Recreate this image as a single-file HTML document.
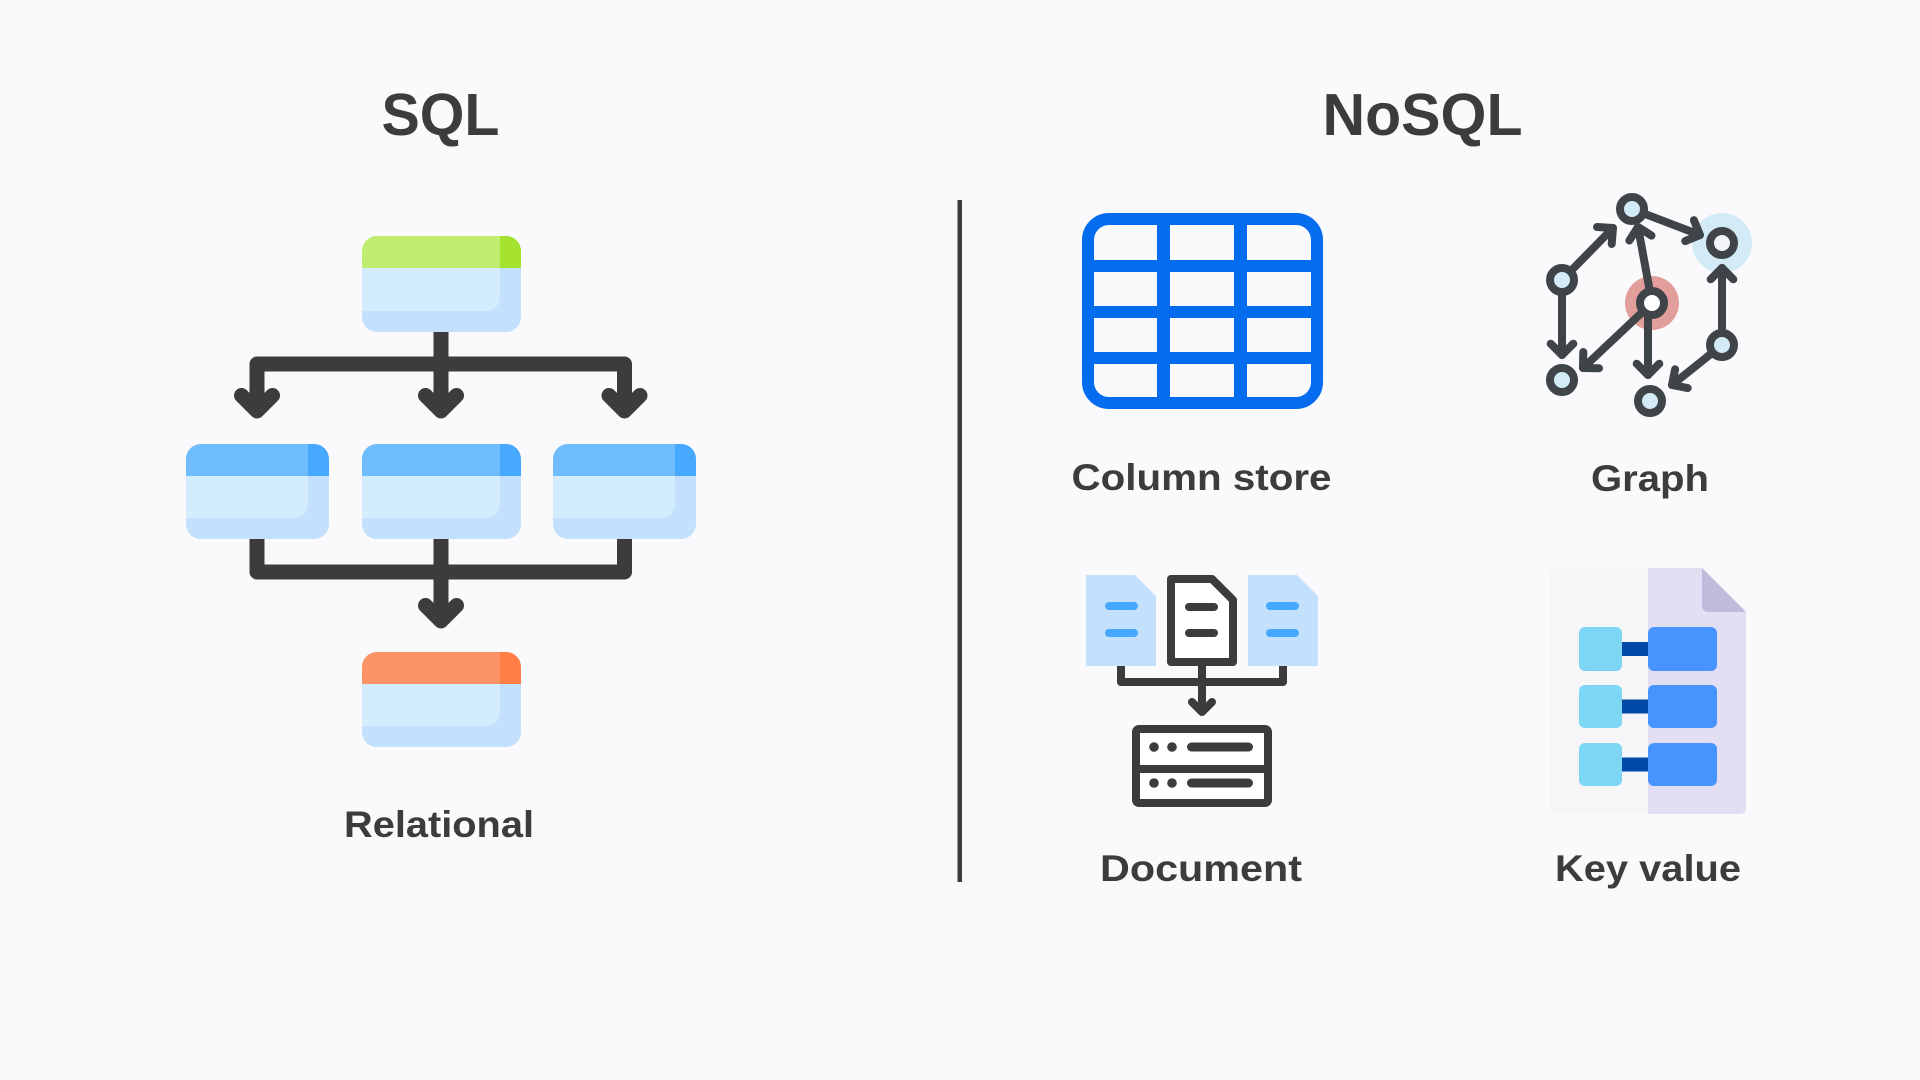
<!DOCTYPE html>
<html>
<head>
<meta charset="utf-8">
<style>
  html, body { margin:0; padding:0; background:#fafafc; }
  body { width:1920px; height:1080px; overflow:hidden; }
  svg { display:block; }
  text { font-family: "Liberation Sans", Arial, sans-serif; font-weight:bold; fill:#3d3c3b; }
</style>
</head>
<body>
<svg width="1920" height="1080" viewBox="0 0 1920 1080" xmlns="http://www.w3.org/2000/svg">
  <defs>
    <clipPath id="cpT"><rect x="0" y="0" width="159" height="96" rx="15" ry="15"/></clipPath>
    <clipPath id="cpM"><rect x="0" y="0" width="159" height="95" rx="15" ry="15"/></clipPath>
    <clipPath id="cpS"><rect x="0" y="0" width="143" height="95" rx="15" ry="15"/></clipPath>
  </defs>

  <rect x="0" y="0" width="1920" height="1080" fill="#fafafc"/>

  <!-- Titles -->
  <text x="440.5" y="135" font-size="59" text-anchor="middle" textLength="118" lengthAdjust="spacingAndGlyphs">SQL</text>
  <text x="1422.5" y="135" font-size="59" text-anchor="middle" textLength="200" lengthAdjust="spacingAndGlyphs">NoSQL</text>

  <!-- Divider -->
  <rect x="957.5" y="200" width="4.5" height="682" fill="#3d3c3b"/>

  <!-- ============ SQL relational diagram ============ -->
  <g fill="none" stroke="#3d3c3a" stroke-width="15" stroke-linecap="round" stroke-linejoin="round">
    <path d="M441,332 V409" stroke-linecap="butt"/>
    <path d="M257,409 V364 H624.5 V409"/>
    <path d="M241.5,395.5 L257,411 L272.5,395.5"/>
    <path d="M425.5,395.5 L441,411 L456.5,395.5"/>
    <path d="M609,395.5 L624.5,411 L640,395.5"/>
    <path d="M257,539 V572 H624.5 V539" stroke-linecap="butt"/>
    <path d="M441,539 V620" stroke-linecap="butt"/>
    <path d="M425.5,605.5 L441,621 L456.5,605.5"/>
  </g>

  <!-- top green box -->
  <g transform="translate(362,236)">
    <g clip-path="url(#cpT)">
      <rect width="159" height="96" fill="#c3e1fd"/>
      <rect width="138" height="32" fill="#c0ed6f"/>
      <rect x="138" width="21" height="32" fill="#a4e22e"/>
      <path d="M0,32 H138 V61 A14,14 0 0 1 124,75 H0 Z" fill="#d4edfe"/>
    </g>
  </g>
  <!-- middle left -->
  <g transform="translate(186,444)">
    <g clip-path="url(#cpS)">
      <rect width="143" height="95" fill="#c3e1fd"/>
      <rect width="122" height="32" fill="#70bdfd"/>
      <rect x="122" width="21" height="32" fill="#47a9fe"/>
      <path d="M0,32 H122 V60 A14,14 0 0 1 108,74 H0 Z" fill="#d4edfe"/>
    </g>
  </g>
  <!-- middle center -->
  <g transform="translate(362,444)">
    <g clip-path="url(#cpM)">
      <rect width="159" height="95" fill="#c3e1fd"/>
      <rect width="138" height="32" fill="#70bdfd"/>
      <rect x="138" width="21" height="32" fill="#47a9fe"/>
      <path d="M0,32 H138 V60 A14,14 0 0 1 124,74 H0 Z" fill="#d4edfe"/>
    </g>
  </g>
  <!-- middle right -->
  <g transform="translate(553,444)">
    <g clip-path="url(#cpS)">
      <rect width="143" height="95" fill="#c3e1fd"/>
      <rect width="122" height="32" fill="#70bdfd"/>
      <rect x="122" width="21" height="32" fill="#47a9fe"/>
      <path d="M0,32 H122 V60 A14,14 0 0 1 108,74 H0 Z" fill="#d4edfe"/>
    </g>
  </g>
  <!-- bottom orange -->
  <g transform="translate(362,652)">
    <g clip-path="url(#cpM)">
      <rect width="159" height="95" fill="#c3e1fd"/>
      <rect width="138" height="32" fill="#fd9468"/>
      <rect x="138" width="21" height="32" fill="#fe7e43"/>
      <path d="M0,32 H138 V60 A14,14 0 0 1 124,74 H0 Z" fill="#d4edfe"/>
    </g>
  </g>

  <text x="439" y="837" font-size="37" text-anchor="middle" textLength="190" lengthAdjust="spacingAndGlyphs">Relational</text>

  <!-- ============ Column store ============ -->
  <g fill="none" stroke="#036cef">
    <rect x="1088" y="219" width="229" height="184" rx="21" ry="21" stroke-width="12"/>
    <line x1="1163.5" y1="219" x2="1163.5" y2="403" stroke-width="13"/>
    <line x1="1240.5" y1="219" x2="1240.5" y2="403" stroke-width="13"/>
    <line x1="1088" y1="266" x2="1317" y2="266" stroke-width="12"/>
    <line x1="1088" y1="312" x2="1317" y2="312" stroke-width="12"/>
    <line x1="1088" y1="358" x2="1317" y2="358" stroke-width="12"/>
  </g>
  <text x="1201.5" y="490" font-size="37" text-anchor="middle" textLength="260" lengthAdjust="spacingAndGlyphs">Column store</text>

  <!-- ============ Graph ============ -->
  <circle cx="1722" cy="243" r="30" fill="#d3ebf7"/>
  <circle cx="1652" cy="303" r="27" fill="#e29e9a"/>
  <g fill="none" stroke="#3f4449" stroke-width="8" stroke-linecap="round" stroke-linejoin="round">
    <path d="M1562,280 L1613,228"/>
    <path d="M1597,227 L1613,228 L1611.7,244"/>
    <path d="M1632,209 L1700,235"/>
    <path d="M1693.9,220.2 L1700,235 L1685.2,241.1"/>
    <path d="M1652,303 L1638,227"/>
    <path d="M1629.4,240.5 L1638,227 L1651.5,235.6"/>
    <path d="M1562,280 L1562,355"/>
    <path d="M1550.7,343.7 L1562,355 L1573.3,343.7"/>
    <path d="M1652,303 L1583,368"/>
    <path d="M1599,368.3 L1583,368 L1583.3,352"/>
    <path d="M1648,303 L1648,375"/>
    <path d="M1636.7,363.7 L1648,375 L1659.3,363.7"/>
    <path d="M1722,345 L1722,268"/>
    <path d="M1710.7,279.3 L1722,268 L1733.3,279.3"/>
    <path d="M1722,345 L1672,385"/>
    <path d="M1687.7,388.1 L1672,385 L1675.1,369.3"/>
  </g>
  <g stroke="#3f4449" stroke-width="8">
    <circle cx="1632" cy="209" r="12" fill="#d3ebf7"/>
    <circle cx="1722" cy="243" r="12" fill="#f4f5fa"/>
    <circle cx="1562" cy="280" r="12" fill="#d3ebf7"/>
    <circle cx="1652" cy="303" r="12" fill="#ffffff"/>
    <circle cx="1562" cy="380" r="12" fill="#d3ebf7"/>
    <circle cx="1650" cy="401" r="12" fill="#d3ebf7"/>
    <circle cx="1722" cy="345" r="12" fill="#d3ebf7"/>
  </g>
  <text x="1650" y="491" font-size="37" text-anchor="middle" textLength="118" lengthAdjust="spacingAndGlyphs">Graph</text>

  <!-- ============ Document ============ -->
  <g fill="none" stroke="#3d3c3b" stroke-width="8" stroke-linecap="round" stroke-linejoin="round">
    <path d="M1121,664 V682 H1283 V664" stroke-linecap="butt"/>
    <path d="M1202,664 V710" stroke-linecap="butt"/>
    <path d="M1192,702 L1202,712 L1212,702"/>
  </g>
  <path d="M1086,575 H1135 L1156,596 V666 H1086 Z" fill="#c3e1fc"/>
  <path d="M1248,575 H1297 L1318,596 V666 H1248 Z" fill="#c3e1fc"/>
  <g stroke="#47a9fe" stroke-width="8" stroke-linecap="round">
    <line x1="1109" y1="606" x2="1134" y2="606"/>
    <line x1="1109" y1="633" x2="1134" y2="633"/>
    <line x1="1270" y1="606" x2="1295" y2="606"/>
    <line x1="1270" y1="633" x2="1295" y2="633"/>
  </g>
  <path d="M1171,579 H1212 L1233,600 V662 H1171 Z" fill="#ffffff" stroke="#3d3c3b" stroke-width="8" stroke-linejoin="round"/>
  <g stroke="#3d3c3b" stroke-width="8" stroke-linecap="round">
    <line x1="1189" y1="607" x2="1214" y2="607"/>
    <line x1="1189" y1="633" x2="1214" y2="633"/>
  </g>
  <rect x="1136" y="729" width="132" height="74" rx="3" fill="#ffffff" stroke="#3d3c3b" stroke-width="8"/>
  <line x1="1136" y1="769" x2="1268" y2="769" stroke="#3d3c3b" stroke-width="8"/>
  <g fill="#3d3c3b">
    <circle cx="1154" cy="747" r="4.8"/>
    <circle cx="1172" cy="747" r="4.8"/>
    <circle cx="1154" cy="783" r="4.8"/>
    <circle cx="1172" cy="783" r="4.8"/>
  </g>
  <g stroke="#3d3c3b" stroke-width="9" stroke-linecap="round">
    <line x1="1191.5" y1="747" x2="1248.5" y2="747"/>
    <line x1="1191.5" y1="783" x2="1248.5" y2="783"/>
  </g>
  <text x="1201" y="881" font-size="37" text-anchor="middle" textLength="202" lengthAdjust="spacingAndGlyphs">Document</text>

  <!-- ============ Key value ============ -->
  <path d="M1556,568 H1648 V814 H1556 A6,6 0 0 1 1550,808 V574 A6,6 0 0 1 1556,568 Z" fill="#f6f6f9"/>
  <path d="M1648,568 H1702 L1746,612 V808 A6,6 0 0 1 1740,814 H1648 Z" fill="#e2def4"/>
  <path d="M1702,568 L1746,612 H1708 A6,6 0 0 1 1702,606 Z" fill="#bebbdd"/>
  <g>
    <rect x="1620" y="642" width="30" height="14" fill="#0049a6"/>
    <rect x="1620" y="699.5" width="30" height="14" fill="#0049a6"/>
    <rect x="1620" y="757.5" width="30" height="14" fill="#0049a6"/>
    <rect x="1579" y="627" width="43" height="44" rx="6" fill="#7dd6f3"/>
    <rect x="1579" y="685" width="43" height="43" rx="6" fill="#7dd6f3"/>
    <rect x="1579" y="743" width="43" height="43" rx="6" fill="#7dd6f3"/>
    <rect x="1648" y="627" width="69" height="44" rx="6" fill="#4894fe"/>
    <rect x="1648" y="685" width="69" height="43" rx="6" fill="#4894fe"/>
    <rect x="1648" y="743" width="69" height="43" rx="6" fill="#4894fe"/>
  </g>
  <text x="1648" y="881" font-size="37" text-anchor="middle" textLength="186" lengthAdjust="spacingAndGlyphs">Key value</text>
</svg>
</body>
</html>
